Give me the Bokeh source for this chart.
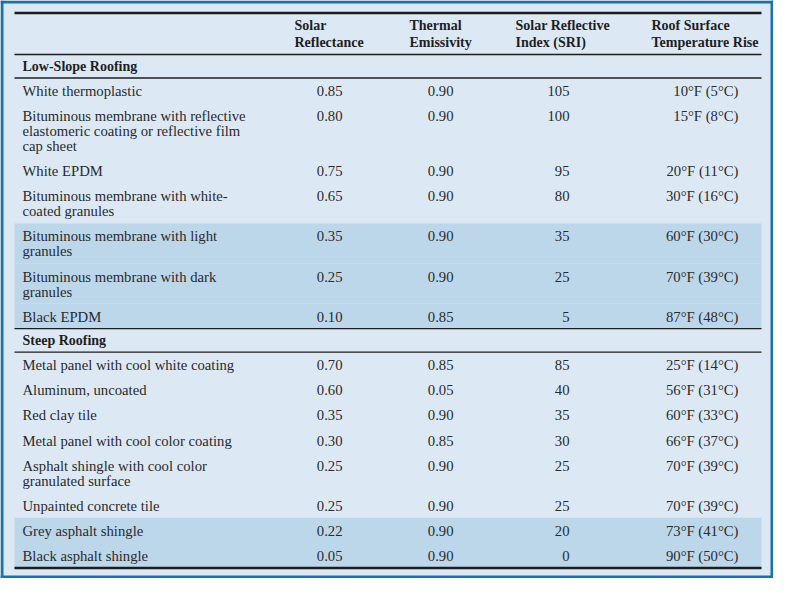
from bokeh.plotting import figure
from bokeh.models import Range1d
from bokeh.core.properties import value
from bokeh.embed import file_html
from bokeh.resources import INLINE

# ---------------- data ----------------
column_headers = ["Solar\nReflectance", "Thermal\nEmissivity",
                  "Solar Reflective\nIndex (SRI)", "Roof Surface\nTemperature Rise"]

sections = ["Low-Slope Roofing", "Steep Roofing"]

materials = [
    "White thermoplastic",
    "Bituminous membrane with reflective\nelastomeric coating or reflective film\ncap sheet",
    "White EPDM",
    "Bituminous membrane with white-\ncoated granules",
    "Bituminous membrane with light\ngranules",
    "Bituminous membrane with dark\ngranules",
    "Black EPDM",
    "Metal panel with cool white coating",
    "Aluminum, uncoated",
    "Red clay tile",
    "Metal panel with cool color coating",
    "Asphalt shingle with cool color\ngranulated surface",
    "Unpainted concrete tile",
    "Grey asphalt shingle",
    "Black asphalt shingle",
]
material_section = ["Low-Slope Roofing"] * 7 + ["Steep Roofing"] * 8

solar_reflectance = [0.85, 0.80, 0.75, 0.65, 0.35, 0.25, 0.10,
                     0.70, 0.60, 0.35, 0.30, 0.25, 0.25, 0.22, 0.05]
thermal_emissivity = [0.90, 0.90, 0.90, 0.90, 0.90, 0.90, 0.85,
                      0.85, 0.05, 0.90, 0.85, 0.90, 0.90, 0.90, 0.90]
sri = [105, 100, 95, 80, 35, 25, 5,
       85, 40, 35, 30, 25, 25, 20, 0]
temp_rise_f = [10, 15, 20, 30, 60, 70, 87,
               25, 56, 60, 66, 70, 70, 73, 90]
temp_rise_c = [5, 8, 11, 16, 30, 39, 48,
               14, 31, 33, 37, 39, 39, 41, 50]
shaded = [False, False, False, False, True, True, True,
          False, False, False, False, False, False, True, True]

# ---------------- style / layout ----------------
W, H = 773, 578
BG = "#dce9f5"
SHADE = "#bdd7ea"
BORDER = "#1a72ad"
RULE = "#1c1c1c"
TXT = "#2a2a2a"
FONT = value("Liberation Serif")
REG_SIZE = "14.7px"
BOLD_SIZE = "14px"

T_LEFT, T_RIGHT = 14, 761
LABEL_X = 22
NUM_RIGHT = [342, 453, 569, 738]
HEAD_LEFT = [294, 409, 515, 651]
TOP_RULE = 12.5
HEADER_H = 41.5
SECTION_H = 23.5
ROW_H = 25.1
LINE_H = 15

p = figure(width=W, height=H, output_backend="svg", toolbar_location=None,
           x_range=Range1d(0, W), y_range=Range1d(H, 0),
           x_axis_type=None, y_axis_type=None, min_border=0,
           background_fill_color=BG, border_fill_color=BG,
           outline_line_color=None)
p.grid.visible = False

thin_rules, shade_l, shade_r, shade_t, shade_b = [], [], [], [], []
lab_x, lab_y, lab_t = [], [], []
num_x, num_y, num_t = [], [], []
bold_x, bold_y, bold_t = [], [], []

# header
for hx, htxt in zip(HEAD_LEFT, column_headers):
    for i, line in enumerate(htxt.split("\n")):
        bold_x.append(hx)
        bold_y.append(TOP_RULE + 12.5 + 17 * i)
        bold_t.append(line)

y = TOP_RULE + HEADER_H
for sec in sections:
    thin_rules.append(y)
    bold_x.append(LABEL_X)
    bold_y.append(y + SECTION_H / 2)
    bold_t.append(sec)
    y += SECTION_H
    thin_rules.append(y)
    for k, m in enumerate(materials):
        if material_section[k] != sec:
            continue
        lines = m.split("\n")
        h = ROW_H + LINE_H * (len(lines) - 1)
        if shaded[k]:
            shade_l.append(T_LEFT); shade_r.append(T_RIGHT)
            shade_t.append(y); shade_b.append(y + h)
        cy = y + 13
        for i, line in enumerate(lines):
            lab_x.append(LABEL_X); lab_y.append(cy + LINE_H * i); lab_t.append(line)
        vals = [f"{solar_reflectance[k]:.2f}", f"{thermal_emissivity[k]:.2f}",
                f"{sri[k]}", f"{temp_rise_f[k]}\u00b0F ({temp_rise_c[k]}\u00b0C)"]
        for nx, v in zip(NUM_RIGHT, vals):
            num_x.append(nx); num_y.append(cy); num_t.append(v)
        y += h
bottom_rule = y

# shading bands
p.quad(left=shade_l, right=shade_r, top=shade_t, bottom=shade_b,
       fill_color=SHADE, line_color=None)

# rules
p.segment(x0=[T_LEFT] * len(thin_rules), x1=[T_RIGHT] * len(thin_rules),
          y0=thin_rules, y1=thin_rules, line_color=RULE, line_width=1.3)
p.segment(x0=[T_LEFT, T_LEFT], x1=[T_RIGHT, T_RIGHT],
          y0=[TOP_RULE, bottom_rule], y1=[TOP_RULE, bottom_rule],
          line_color=RULE, line_width=2.6)

# outer blue frame
bw = 3
p.quad(left=[0, W - bw, 0, 0], right=[bw, W, W, W],
       top=[0, 0, 0, H - bw], bottom=[H, H, bw, H],
       fill_color=BORDER, line_color=None)

# texts
p.text(x=lab_x, y=lab_y, text=lab_t, text_font=FONT, text_font_size=REG_SIZE,
       text_color=TXT, text_align="left", text_baseline="middle")
p.text(x=num_x, y=num_y, text=num_t, text_font=FONT, text_font_size=REG_SIZE,
       text_color=TXT, text_align="right", text_baseline="middle")
p.text(x=bold_x, y=bold_y, text=bold_t, text_font=FONT, text_font_size=BOLD_SIZE,
       text_font_style="bold", text_color="#1e1e1e", text_align="left",
       text_baseline="middle")

open("out.html", "w").write(file_html(p, INLINE))
